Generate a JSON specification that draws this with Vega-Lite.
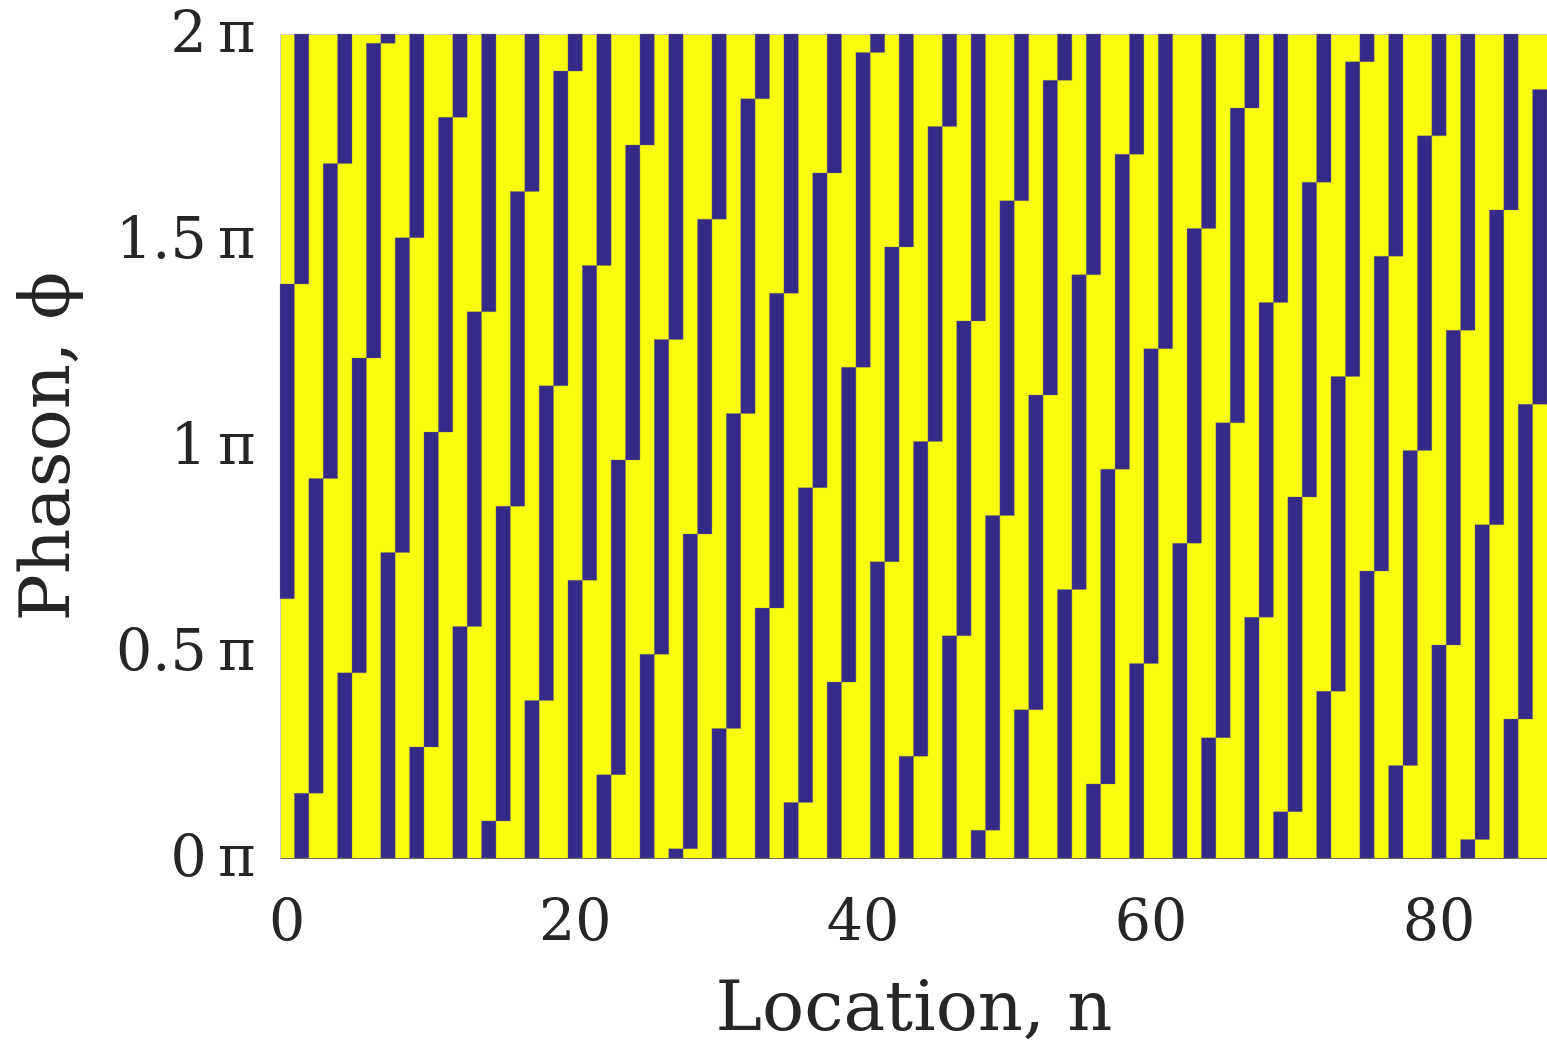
{
  "$schema": "https://vega.github.io/schema/vega-lite/v6.json",
  "width": 1267,
  "height": 824,
  "autosize": {"type": "none"},
  "padding": {"left": 280, "top": 34, "right": 0, "bottom": 189},
  "background": "white",
  "view": {"fill": "#F9FB0E", "stroke": "#d0d0d0", "strokeWidth": 1},
  "data": {"values": [
    {"n":0,"lo":0.6292,"hi":1.3933},
    {"n":1,"lo":1.3933,"hi":2},{"n":1,"lo":0,"hi":0.1573},
    {"n":2,"lo":0.1573,"hi":0.9213},
    {"n":3,"lo":0.9213,"hi":1.6854},
    {"n":4,"lo":1.6854,"hi":2},{"n":4,"lo":0,"hi":0.4494},
    {"n":5,"lo":0.4494,"hi":1.2135},
    {"n":6,"lo":1.2135,"hi":1.9775},
    {"n":7,"lo":1.9775,"hi":2},{"n":7,"lo":0,"hi":0.7416},
    {"n":8,"lo":0.7416,"hi":1.5056},
    {"n":9,"lo":1.5056,"hi":2},{"n":9,"lo":0,"hi":0.2697},
    {"n":10,"lo":0.2697,"hi":1.0337},
    {"n":11,"lo":1.0337,"hi":1.7978},
    {"n":12,"lo":1.7978,"hi":2},{"n":12,"lo":0,"hi":0.5618},
    {"n":13,"lo":0.5618,"hi":1.3258},
    {"n":14,"lo":1.3258,"hi":2},{"n":14,"lo":0,"hi":0.0899},
    {"n":15,"lo":0.0899,"hi":0.8539},
    {"n":16,"lo":0.8539,"hi":1.6180},
    {"n":17,"lo":1.6180,"hi":2},{"n":17,"lo":0,"hi":0.3820},
    {"n":18,"lo":0.3820,"hi":1.1461},
    {"n":19,"lo":1.1461,"hi":1.9101},
    {"n":20,"lo":1.9101,"hi":2},{"n":20,"lo":0,"hi":0.6742},
    {"n":21,"lo":0.6742,"hi":1.4382},
    {"n":22,"lo":1.4382,"hi":2},{"n":22,"lo":0,"hi":0.2022},
    {"n":23,"lo":0.2022,"hi":0.9663},
    {"n":24,"lo":0.9663,"hi":1.7303},
    {"n":25,"lo":1.7303,"hi":2},{"n":25,"lo":0,"hi":0.4944},
    {"n":26,"lo":0.4944,"hi":1.2584},
    {"n":27,"lo":1.2584,"hi":2},{"n":27,"lo":0,"hi":0.0225},
    {"n":28,"lo":0.0225,"hi":0.7865},
    {"n":29,"lo":0.7865,"hi":1.5506},
    {"n":30,"lo":1.5506,"hi":2},{"n":30,"lo":0,"hi":0.3146},
    {"n":31,"lo":0.3146,"hi":1.0787},
    {"n":32,"lo":1.0787,"hi":1.8427},
    {"n":33,"lo":1.8427,"hi":2},{"n":33,"lo":0,"hi":0.6067},
    {"n":34,"lo":0.6067,"hi":1.3708},
    {"n":35,"lo":1.3708,"hi":2},{"n":35,"lo":0,"hi":0.1348},
    {"n":36,"lo":0.1348,"hi":0.8989},
    {"n":37,"lo":0.8989,"hi":1.6629},
    {"n":38,"lo":1.6629,"hi":2},{"n":38,"lo":0,"hi":0.4270},
    {"n":39,"lo":0.4270,"hi":1.1910},
    {"n":40,"lo":1.1910,"hi":1.9551},
    {"n":41,"lo":1.9551,"hi":2},{"n":41,"lo":0,"hi":0.7191},
    {"n":42,"lo":0.7191,"hi":1.4831},
    {"n":43,"lo":1.4831,"hi":2},{"n":43,"lo":0,"hi":0.2472},
    {"n":44,"lo":0.2472,"hi":1.0112},
    {"n":45,"lo":1.0112,"hi":1.7753},
    {"n":46,"lo":1.7753,"hi":2},{"n":46,"lo":0,"hi":0.5393},
    {"n":47,"lo":0.5393,"hi":1.3034},
    {"n":48,"lo":1.3034,"hi":2},{"n":48,"lo":0,"hi":0.0674},
    {"n":49,"lo":0.0674,"hi":0.8315},
    {"n":50,"lo":0.8315,"hi":1.5955},
    {"n":51,"lo":1.5955,"hi":2},{"n":51,"lo":0,"hi":0.3596},
    {"n":52,"lo":0.3596,"hi":1.1236},
    {"n":53,"lo":1.1236,"hi":1.8876},
    {"n":54,"lo":1.8876,"hi":2},{"n":54,"lo":0,"hi":0.6517},
    {"n":55,"lo":0.6517,"hi":1.4157},
    {"n":56,"lo":1.4157,"hi":2},{"n":56,"lo":0,"hi":0.1798},
    {"n":57,"lo":0.1798,"hi":0.9438},
    {"n":58,"lo":0.9438,"hi":1.7079},
    {"n":59,"lo":1.7079,"hi":2},{"n":59,"lo":0,"hi":0.4719},
    {"n":60,"lo":0.4719,"hi":1.2360},
    {"n":61,"lo":1.2360,"hi":2},
    {"n":62,"lo":0,"hi":0.7640},
    {"n":63,"lo":0.7640,"hi":1.5281},
    {"n":64,"lo":1.5281,"hi":2},{"n":64,"lo":0,"hi":0.2921},
    {"n":65,"lo":0.2921,"hi":1.0562},
    {"n":66,"lo":1.0562,"hi":1.8202},
    {"n":67,"lo":1.8202,"hi":2},{"n":67,"lo":0,"hi":0.5843},
    {"n":68,"lo":0.5843,"hi":1.3483},
    {"n":69,"lo":1.3483,"hi":2},{"n":69,"lo":0,"hi":0.1124},
    {"n":70,"lo":0.1124,"hi":0.8764},
    {"n":71,"lo":0.8764,"hi":1.6404},
    {"n":72,"lo":1.6404,"hi":2},{"n":72,"lo":0,"hi":0.4045},
    {"n":73,"lo":0.4045,"hi":1.1685},
    {"n":74,"lo":1.1685,"hi":1.9326},
    {"n":75,"lo":1.9326,"hi":2},{"n":75,"lo":0,"hi":0.6966},
    {"n":76,"lo":0.6966,"hi":1.4607},
    {"n":77,"lo":1.4607,"hi":2},{"n":77,"lo":0,"hi":0.2247},
    {"n":78,"lo":0.2247,"hi":0.9888},
    {"n":79,"lo":0.9888,"hi":1.7528},
    {"n":80,"lo":1.7528,"hi":2},{"n":80,"lo":0,"hi":0.5169},
    {"n":81,"lo":0.5169,"hi":1.2809},
    {"n":82,"lo":1.2809,"hi":2},{"n":82,"lo":0,"hi":0.0449},
    {"n":83,"lo":0.0449,"hi":0.8090},
    {"n":84,"lo":0.8090,"hi":1.5730},
    {"n":85,"lo":1.5730,"hi":2},{"n":85,"lo":0,"hi":0.3371},
    {"n":86,"lo":0.3371,"hi":1.1011},
    {"n":87,"lo":1.1011,"hi":1.8652}
  ]},
  "mark": {"type": "rect", "color": "#352A87", "stroke": "#7a7a6a", "strokeWidth": 0.5, "strokeOpacity": 0.6},
  "encoding": {
    "x": {
      "field": "n", "type": "ordinal",
      "scale": {"paddingInner": 0, "paddingOuter": 0},
      "axis": {
        "values": [0, 20, 40, 60, 80],
        "labelAngle": 0, "ticks": false, "grid": false,
        "domain": true, "domainColor": "#6e6e50", "domainWidth": 1,
        "labelFont": "DejaVu Serif", "labelFontSize": 57, "labelColor": "#262626",
        "labelPadding": 36,
        "title": "Location, n", "titleFont": "DejaVu Serif", "titleFontSize": 70,
        "titleFontWeight": "normal", "titleColor": "#262626", "titlePadding": 24
      }
    },
    "y": {
      "field": "lo", "type": "quantitative",
      "scale": {"domain": [0, 2], "nice": false, "zero": false},
      "axis": {
        "values": [0, 0.5, 1, 1.5, 2],
        "labelExpr": "datum.value + '\u2009π'",
        "ticks": false, "grid": false, "domain": false,
        "labelFont": "DejaVu Serif", "labelFontSize": 57, "labelColor": "#262626",
        "labelPadding": 25,
        "title": "Phason, ϕ", "titleFont": "DejaVu Serif", "titleFontSize": 70,
        "titleFontWeight": "normal", "titleColor": "#262626", "titlePadding": 32
      }
    },
    "y2": {"field": "hi"}
  }
}
